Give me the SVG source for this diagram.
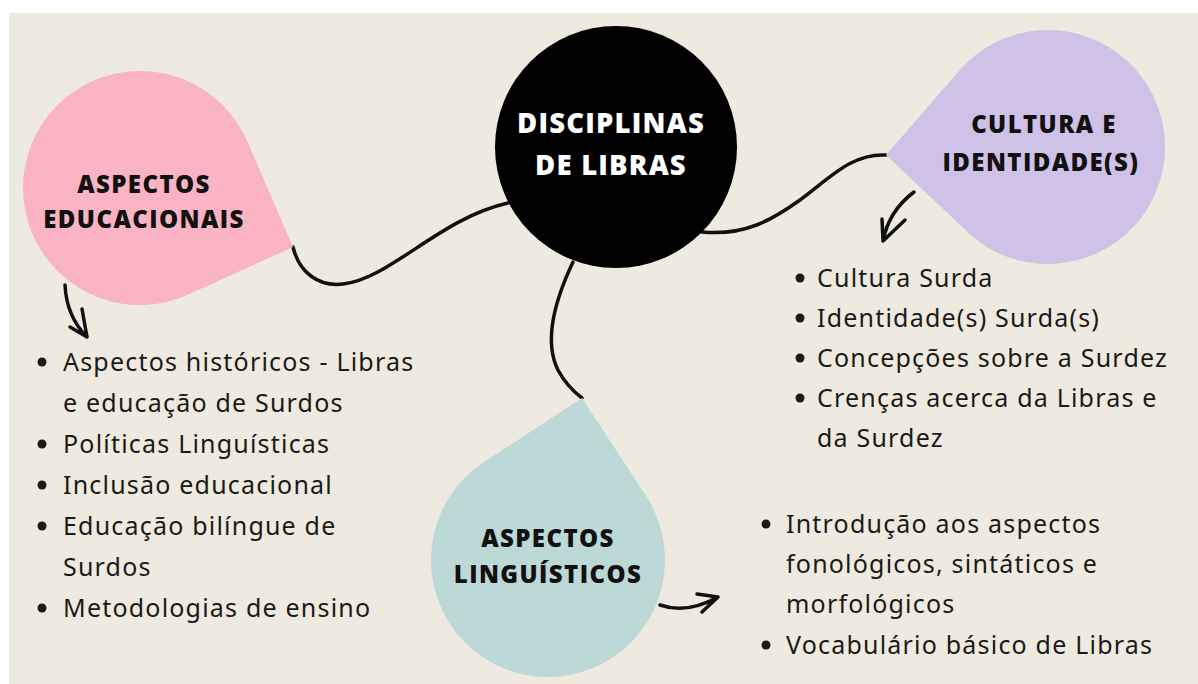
<svg xmlns="http://www.w3.org/2000/svg" width="1198" height="684" viewBox="0 0 1198 684">
<style>
.bg{fill:#eeeadf}
.title{font-family:"Open Sans","Noto Sans",sans-serif;font-weight:800;font-size:24px;text-anchor:middle;fill:#111;letter-spacing:1.4px}
.title.w{fill:#fff;font-size:27.5px;letter-spacing:1.2px}
.body{font-family:"Noto Sans","Open Sans",sans-serif;font-size:25px;fill:#1a1a1a;letter-spacing:1.2px}
.dot{fill:#1a1a1a}
.link{fill:none;stroke:#111;stroke-width:3.5;stroke-linecap:round;stroke-linejoin:round}
</style>
<rect x="0" y="0" width="1198" height="684" fill="#ffffff"/>
<rect class="bg" x="9" y="13" width="1189" height="671"/>

<g id="connectors">
  <path class="link" d="M293,247 C299,272 318,287 343,284 C390,279 440,218 508,203"/>
  <path class="link" d="M702,232 C745,236 772,220 800,200 C830,178 852,153 886,155"/>
  <path class="link" d="M573,262 C555,300 543,340 558,370 C566,385 574,392 582,398"/>
  <path class="link" d="M65,285 C66,305 72,322 87,337 M70,327 L87,337 L82,309"/>
  <path class="link" d="M914,192 C898,204 887,220 883,241 M882,219 L883,241 L905,220"/>
  <path class="link" d="M660,605 C680,612 700,607 718,597 M697,594 L718,597 L702,612"/>
</g>

<g id="node-center">
  <circle cx="616" cy="147" r="121" fill="#000"/>
  <text class="title w" x="611" y="133">DISCIPLINAS</text>
  <text class="title w" x="611" y="175">DE LIBRAS</text>
</g>

<g id="node-educacionais">
  <path d="M293,247 L188.3,294.6 A117,117 0 1 1 247.4,141.5 Z" fill="#f9b3c3"/>
  <text class="title" x="144" y="193">ASPECTOS</text>
  <text class="title" x="144" y="228">EDUCACIONAIS</text>
</g>

<g id="node-cultura">
  <path d="M886,155 L959.7,70.2 A117,117 0 1 1 967.6,232 Z" fill="#cfc1e7"/>
  <text class="title" x="1044" y="133">CULTURA E</text>
  <text class="title" x="1041" y="171">IDENTIDADE(S)</text>
</g>

<g id="node-linguisticos">
  <path d="M582,398 L646,496.1 A117,117 0 1 1 484.1,462 Z" fill="#bcd8d7"/>
  <text class="title" x="548" y="547">ASPECTOS</text>
  <text class="title" x="548" y="583">LINGUÍSTICOS</text>
</g>

<g id="list-educacionais">
  <circle class="dot" cx="42" cy="362" r="4.5"/>
  <circle class="dot" cx="42" cy="444" r="4.5"/>
  <circle class="dot" cx="42" cy="485" r="4.5"/>
  <circle class="dot" cx="42" cy="526" r="4.5"/>
  <circle class="dot" cx="42" cy="608" r="4.5"/>
  <text class="body" x="63" y="371">Aspectos históricos - Libras</text>
  <text class="body" x="63" y="412">e educação de Surdos</text>
  <text class="body" x="63" y="453">Políticas Linguísticas</text>
  <text class="body" x="63" y="494">Inclusão educacional</text>
  <text class="body" x="63" y="535">Educação bilíngue de</text>
  <text class="body" x="63" y="576">Surdos</text>
  <text class="body" x="63" y="617">Metodologias de ensino</text>
</g>

<g id="list-cultura">
  <circle class="dot" cx="800" cy="278" r="4.5"/>
  <circle class="dot" cx="800" cy="318" r="4.5"/>
  <circle class="dot" cx="800" cy="358" r="4.5"/>
  <circle class="dot" cx="800" cy="398" r="4.5"/>
  <text class="body" x="817" y="287">Cultura Surda</text>
  <text class="body" x="817" y="327">Identidade(s) Surda(s)</text>
  <text class="body" x="817" y="367">Concepções sobre a Surdez</text>
  <text class="body" x="817" y="407">Crenças acerca da Libras e</text>
  <text class="body" x="817" y="447">da Surdez</text>
</g>

<g id="list-linguisticos">
  <circle class="dot" cx="766" cy="524" r="4.5"/>
  <circle class="dot" cx="766" cy="645" r="4.5"/>
  <text class="body" x="786" y="533">Introdução aos aspectos</text>
  <text class="body" x="786" y="573">fonológicos, sintáticos e</text>
  <text class="body" x="786" y="613">morfológicos</text>
  <text class="body" x="786" y="654">Vocabulário básico de Libras</text>
</g>
</svg>
